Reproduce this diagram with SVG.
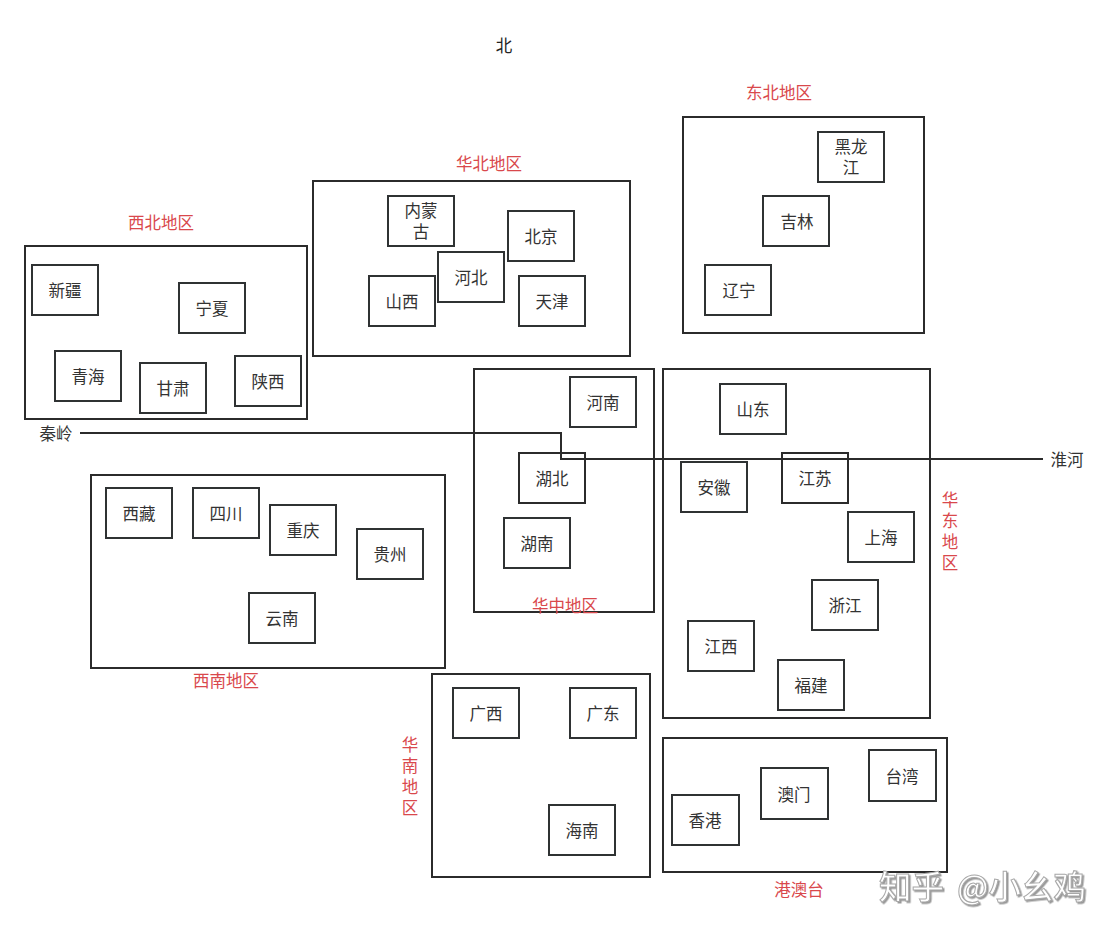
<svg xmlns="http://www.w3.org/2000/svg" width="1115" height="934" viewBox="0 0 1115 934">
<style>
text{font-family:"Noto Sans CJK SC","Noto Sans CJK JP",sans-serif;font-size:16.5px;text-anchor:middle;fill:#333}
.r{fill:none;stroke:#2b2b2b;stroke-width:2}
.n{fill:#fff;stroke:#2f3233;stroke-width:2}
.l{fill:#d9484c}
.c{fill:none;stroke:#2b2b2b;stroke-width:2}
.w{font-size:32.5px;fill:#fff;stroke:#a8a8a8;stroke-width:1;text-anchor:start;font-weight:500;filter:url(#s)}
</style>
<defs><filter id="s" x="-5%" y="-5%" width="110%" height="110%"><feDropShadow dx="1.5" dy="1.5" stdDeviation="0.5" flood-color="#999"/></filter></defs>
<rect width="1115" height="934" fill="#fff"/>
<g id="regions">
<rect class="r" x="25" y="246" width="282" height="173"/>
<rect class="r" x="313" y="181" width="317" height="175"/>
<rect class="r" x="683" y="117" width="241" height="216"/>
<rect class="r" x="474" y="369" width="180" height="243"/>
<rect class="r" x="663" y="369" width="267" height="349"/>
<rect class="r" x="91" y="475" width="354" height="193"/>
<rect class="r" x="432" y="674" width="218" height="203"/>
<rect class="r" x="663" y="738" width="284" height="134"/>
</g>
<g id="labels">
<text x="504" y="52" style="fill:#222">北</text>
<text class="l" x="779" y="99">东北地区</text>
<text class="l" x="489" y="170">华北地区</text>
<text class="l" x="161" y="229">西北地区</text>
<text class="l" x="565" y="612">华中地区</text>
<text class="l" x="226" y="687">西南地区</text>
<text class="l" x="799" y="896">港澳台</text>
<text class="l" y="506"><tspan x="950">华</tspan><tspan x="950" dy="21">东</tspan><tspan x="950" dy="21">地</tspan><tspan x="950" dy="21">区</tspan></text>
<text class="l" y="751"><tspan x="410">华</tspan><tspan x="410" dy="21">南</tspan><tspan x="410" dy="21">地</tspan><tspan x="410" dy="21">区</tspan></text>
<text x="56" y="440">秦岭</text>
<text x="1067" y="466">淮河</text>
</g>
<g id="connectors">
<path class="c" d="M80 433H561V459H1043"/>
</g>
<g id="xinjiang"><rect class="n" x="32" y="265" width="66" height="50"/><text x="65" y="297">新疆</text></g>
<g id="ningxia"><rect class="n" x="179" y="283" width="66" height="50"/><text x="212" y="315">宁夏</text></g>
<g id="qinghai"><rect class="n" x="55" y="351" width="66" height="50"/><text x="88" y="383">青海</text></g>
<g id="gansu"><rect class="n" x="140" y="363" width="66" height="50"/><text x="173" y="395">甘肃</text></g>
<g id="shaanxi"><rect class="n" x="235" y="356" width="66" height="50"/><text x="268" y="388">陕西</text></g>
<g id="neimenggu"><rect class="n" x="388" y="196" width="66" height="50"/><text y="217"><tspan x="421">内蒙</tspan><tspan x="421" dy="21">古</tspan></text></g>
<g id="beijing"><rect class="n" x="508" y="211" width="66" height="50"/><text x="541" y="243">北京</text></g>
<g id="shanxi"><rect class="n" x="369" y="276" width="66" height="50"/><text x="402" y="308">山西</text></g>
<g id="hebei"><rect class="n" x="438" y="252" width="66" height="50"/><text x="471" y="284">河北</text></g>
<g id="tianjin"><rect class="n" x="519" y="276" width="66" height="50"/><text x="552" y="308">天津</text></g>
<g id="heilongjiang"><rect class="n" x="818" y="132" width="66" height="50"/><text y="153"><tspan x="851">黑龙</tspan><tspan x="851" dy="21">江</tspan></text></g>
<g id="jilin"><rect class="n" x="763" y="196" width="66" height="50"/><text x="797" y="228">吉林</text></g>
<g id="liaoning"><rect class="n" x="705" y="265" width="66" height="50"/><text x="739" y="297">辽宁</text></g>
<g id="henan"><rect class="n" x="570" y="377" width="66" height="50"/><text x="603" y="409">河南</text></g>
<g id="hubei"><rect class="r" x="519" y="453" width="66" height="50"/><text x="552" y="485">湖北</text></g>
<g id="hunan"><rect class="n" x="504" y="518" width="66" height="50"/><text x="537" y="550">湖南</text></g>
<g id="shandong"><rect class="n" x="720" y="384" width="66" height="50"/><text x="753" y="416">山东</text></g>
<g id="anhui"><rect class="n" x="681" y="462" width="66" height="50"/><text x="714" y="494">安徽</text></g>
<g id="jiangsu"><rect class="r" x="782" y="453" width="66" height="50"/><text x="815" y="485">江苏</text></g>
<g id="shanghai"><rect class="n" x="848" y="512" width="66" height="50"/><text x="881" y="544">上海</text></g>
<g id="zhejiang"><rect class="n" x="812" y="580" width="66" height="50"/><text x="845" y="612">浙江</text></g>
<g id="jiangxi"><rect class="n" x="688" y="621" width="66" height="50"/><text x="721" y="653">江西</text></g>
<g id="fujian"><rect class="n" x="778" y="660" width="66" height="50"/><text x="811" y="692">福建</text></g>
<g id="xizang"><rect class="n" x="106" y="488" width="66" height="50"/><text x="139" y="520">西藏</text></g>
<g id="sichuan"><rect class="n" x="193" y="488" width="66" height="50"/><text x="226" y="520">四川</text></g>
<g id="chongqing"><rect class="n" x="270" y="505" width="66" height="50"/><text x="303" y="537">重庆</text></g>
<g id="guizhou"><rect class="n" x="357" y="529" width="66" height="50"/><text x="390" y="561">贵州</text></g>
<g id="yunnan"><rect class="n" x="249" y="593" width="66" height="50"/><text x="282" y="625">云南</text></g>
<g id="guangxi"><rect class="n" x="453" y="688" width="66" height="50"/><text x="486" y="720">广西</text></g>
<g id="guangdong"><rect class="n" x="570" y="688" width="66" height="50"/><text x="603" y="720">广东</text></g>
<g id="hainan"><rect class="n" x="549" y="805" width="66" height="50"/><text x="582" y="837">海南</text></g>
<g id="xianggang"><rect class="n" x="672" y="795" width="67" height="50"/><text x="705" y="827">香港</text></g>
<g id="aomen"><rect class="n" x="761" y="768" width="67" height="51"/><text x="794" y="801">澳门</text></g>
<g id="taiwan"><rect class="n" x="869" y="750" width="67" height="51"/><text x="902" y="783">台湾</text></g>
<text class="w" x="879" y="899">知乎</text>
<text class="w" x="957" y="899">@小幺鸡</text>
</svg>
